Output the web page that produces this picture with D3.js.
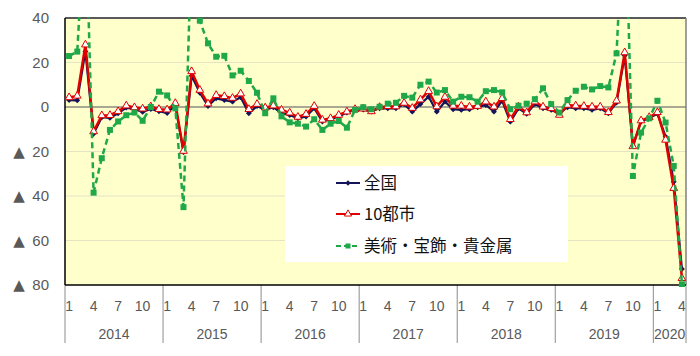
<!DOCTYPE html>
<html><head><meta charset="utf-8">
<script src="https://cdn.jsdelivr.net/npm/d3@7"></script>
<style>
html,body{margin:0;padding:0;background:#fff;}
svg{display:block;font-family:"Noto Sans CJK JP","Noto Sans",sans-serif;}
</style></head>
<body>
<svg id="c" width="700" height="356"></svg>
<script>
// ---- data ----
const years = [2014, 2015, 2016, 2017, 2018, 2019, 2020];
const monthsPerYear = [12, 12, 12, 12, 12, 12, 4];
const monthTickLabels = [1, 4, 7, 10];
const yTicks = [40, 20, 0, -20, -40, -60, -80];
const seriesNames = ["全国", "10都市", "美術・宝飾・貴金属"];

const zenkoku = [
  3.1, 3.0, 25.0, -12.0, -4.6, -4.9, -2.8, -0.3, -1.0, -2.2, -0.9, -1.9,
  -2.7, 0.8, -20.3, 14.0, 6.4, 0.4, 3.9, 3.1, 2.4, 4.4, -2.8, 0.4,
  -1.3, -0.1, -2.8, -3.6, -5.1, -4.3, -0.5, -6.5, -5.5, -4.3, -2.5, -1.3,
  -1.2, -2.0, -0.6, -0.6, -0.6, 1.2, -2.1, 1.3, 4.6, -2.1, 2.4, -1.0,
  -1.3, -1.0, -0.1, 0.9, -2.1, 2.8, -6.6, -0.6, -3.1, 1.3, -0.6, -1.3,
  -2.8, -0.1, -0.6, -0.6, -1.3, -0.6, -2.8, 2.0, 23.1, -17.5, -6.5, -5.0,
  -3.0, -13.3, -33.6, -72.8
];
const toshi10 = [
  4.3, 5.0, 28.0, -11.0, -3.8, -3.7, -2.0, 0.6, -0.2, -0.8, 0.2, -1.0,
  -1.2, 1.7, -19.8, 16.0, 7.6, 1.5, 5.3, 4.8, 4.0, 6.0, -1.0, 1.3,
  -0.3, 0.6, -1.3, -2.6, -4.5, -3.2, 0.4, -5.8, -5.1, -3.6, -2.1, -1.0,
  -0.8, -2.0, -0.1, 0.3, 0.2, 1.8, -0.5, 3.3, 7.1, 0.2, 4.5, 0.5,
  0.5, 0.1, 0.4, 2.4, 0.1, 3.9, -5.5, 0.1, -2.5, 2.4, 0.1, -0.6,
  -3.6, 0.9, 0.6, 0.4, 0.1, 0.1, -2.4, 2.8, 24.5, -17.7, -6.1, -4.6,
  -2.4, -14.8, -36.5, -77.0
];
const bijutsu = [
  22.9, 24.9, 90.0, -38.5, -23.0, -10.3, -6.5, -3.7, -2.5, -6.2, 0.0, 6.9,
  5.2, -0.6, -45.0, 75.0, 38.8, 28.6, 22.6, 23.0, 14.2, 16.3, 11.7, 6.4,
  -2.8, 3.9, -4.2, -6.9, -7.5, -8.8, -5.5, -10.3, -7.5, -6.3, -9.3, -1.3,
  -0.1, -1.0, 0.1, 1.5, 1.9, 5.0, 4.2, 10.0, 11.4, 6.5, 7.6, 2.4,
  4.6, 4.4, 2.4, 7.1, 7.6, 6.6, -1.0, 0.6, 1.5, 3.5, 8.4, 1.3,
  -2.5, 3.1, 7.3, 9.1, 7.9, 9.4, 8.8, 24.1, 100.0, -31.0, -11.5, -5.1,
  2.8, -7.0, -26.5, -79.7
];

// ---- build categories ----
const cats = [];
years.forEach((yr, i) => {
  for (let m = 1; m <= monthsPerYear[i]; m++) cats.push({ key: yr + "-" + m, year: yr, month: m });
});

const svg = d3.select("#c");
const L = 65, R = 686, T = 18, B = 285;
const x = d3.scaleBand().domain(cats.map(c => c.key)).range([L, R]).padding(0);
const y = d3.scaleLinear().domain([-80, 40]).range([B, T]);
const cx = k => x(k) + x.bandwidth() / 2;

// plot background
svg.append("rect").attr("x", L).attr("y", T).attr("width", R - L).attr("height", B - T).attr("fill", "#FFFFCC");

// gridlines
svg.append("g").selectAll("line").data(yTicks.filter(v => v !== 0 && v !== 40 && v !== -80)).join("line")
  .attr("x1", L).attr("x2", R).attr("y1", d => y(d)).attr("y2", d => y(d))
  .attr("stroke", "#e6e2c4").attr("stroke-width", 1);
// zero line
svg.append("line").attr("x1", L).attr("x2", R).attr("y1", y(0)).attr("y2", y(0))
  .attr("stroke", "#8c8c80").attr("stroke-width", 1.5);

// borders
svg.append("line").attr("x1", L).attr("x2", R).attr("y1", T).attr("y2", T).attr("stroke", "#595959").attr("stroke-width", 2);
svg.append("line").attr("x1", R).attr("x2", R).attr("y1", T).attr("y2", B).attr("stroke", "#7f7f7f").attr("stroke-width", 1.5);

// y axis
const yAxis = d3.axisLeft(y).tickValues(yTicks).tickSize(0).tickPadding(16)
  .tickFormat(d => Math.abs(d));
const gy = svg.append("g").attr("transform", `translate(${L},0)`).call(yAxis);
gy.select(".domain").remove();
gy.selectAll("text").attr("font-size", 15).attr("fill", "#595959")
  .attr("font-family", "'Liberation Sans', Arial, sans-serif");
gy.selectAll(".tick").filter(d => d < 0).append("text")
  .attr("x", -46).attr("dy", "0.32em").attr("text-anchor", "middle")
  .attr("font-size", 15).attr("fill", "#595959")
  .attr("font-family", "'DejaVu Sans', sans-serif").text("▲");

// x axis: month labels
const xg = svg.append("g");
xg.selectAll("text.m").data(cats.filter(c => monthTickLabels.includes(c.month))).join("text")
  .attr("class", "m").attr("x", d => cx(d.key)).attr("y", 311)
  .attr("text-anchor", "middle").attr("font-size", 14).attr("fill", "#595959")
  .attr("font-family", "'Liberation Sans', Arial, sans-serif")
  .text(d => d.month);
// year labels
const yearSpans = years.map(yr => {
  const ks = cats.filter(c => c.year === yr);
  return { year: yr, x0: x(ks[0].key), x1: x(ks[ks.length - 1].key) + x.bandwidth() };
});
xg.selectAll("text.y").data(yearSpans).join("text")
  .attr("class", "y").attr("x", d => (d.x0 + d.x1) / 2).attr("y", 339)
  .attr("text-anchor", "middle").attr("font-size", 14).attr("fill", "#595959")
  .attr("font-family", "'Liberation Sans', Arial, sans-serif")
  .text(d => d.year);
// separators
xg.selectAll("line.s").data(yearSpans).join("line")
  .attr("class", "s").attr("x1", d => d.x0).attr("x2", d => d.x0)
  .attr("y1", B).attr("y2", 343).attr("stroke", "#8c8c8c").attr("stroke-width", 1);
xg.append("line").attr("x1", R).attr("x2", R).attr("y1", B).attr("y2", 343).attr("stroke", "#8c8c8c").attr("stroke-width", 1);

// left & bottom axis lines
svg.append("line").attr("x1", L).attr("x2", L).attr("y1", T).attr("y2", B).attr("stroke", "#000").attr("stroke-width", 1.5);
svg.append("line").attr("x1", L).attr("x2", R).attr("y1", B).attr("y2", B).attr("stroke", "#000").attr("stroke-width", 1.5);

// clip
svg.append("clipPath").attr("id", "clip").append("rect")
  .attr("x", L).attr("y", T - 1).attr("width", R - L).attr("height", B - T + 3);

const plot = svg.append("g").attr("clip-path", "url(#clip)");
const line = d3.line().x((d, i) => cx(cats[i].key)).y(d => y(d));

// legend box (behind lines? draw before series)
const legend = svg.append("g");
legend.append("rect").attr("x", 285).attr("y", 166).attr("width", 283).attr("height", 96).attr("fill", "#fff");

// 全国
plot.append("path").datum(zenkoku).attr("d", line).attr("fill", "none")
  .attr("stroke", "#14145a").attr("stroke-width", 2.2);
plot.selectAll("path.dia").data(zenkoku).join("path").attr("class", "dia")
  .attr("transform", (d, i) => `translate(${cx(cats[i].key)},${y(d)})`)
  .attr("d", d3.symbol(d3.symbolDiamond2, 22)).attr("fill", "#14145a");

// 10都市
plot.append("path").datum(toshi10).attr("d", line).attr("fill", "none")
  .attr("stroke", "#e00000").attr("stroke-width", 2.5);
plot.selectAll("path.tri").data(toshi10).join("path").attr("class", "tri")
  .attr("transform", (d, i) => `translate(${cx(cats[i].key)},${y(d)})`)
  .attr("d", d3.symbol(d3.symbolTriangle, 26)).attr("fill", "#fff").attr("stroke", "#e00000").attr("stroke-width", 1);

// 美術・宝飾・貴金属
plot.append("path").datum(bijutsu).attr("d", line).attr("fill", "none")
  .attr("stroke", "#1fa84a").attr("stroke-width", 2.5).attr("stroke-dasharray", "6,4");
plot.selectAll("rect.sq").data(bijutsu).join("rect").attr("class", "sq")
  .attr("x", (d, i) => cx(cats[i].key) - 3).attr("y", d => y(d) - 3)
  .attr("width", 6).attr("height", 6).attr("fill", "#1fa84a");

// legend entries
const lg = [
  { name: seriesNames[0], y: 183 },
  { name: seriesNames[1], y: 214 },
  { name: seriesNames[2], y: 246 }
];
const lx0 = 336, lx1 = 360;
// 全国
legend.append("line").attr("x1", lx0).attr("x2", lx1).attr("y1", lg[0].y).attr("y2", lg[0].y).attr("stroke", "#14145a").attr("stroke-width", 2);
legend.append("path").attr("transform", `translate(${(lx0 + lx1) / 2},${lg[0].y})`).attr("d", d3.symbol(d3.symbolDiamond2, 18)).attr("fill", "#14145a");
// 10都市
legend.append("line").attr("x1", lx0).attr("x2", lx1).attr("y1", lg[1].y).attr("y2", lg[1].y).attr("stroke", "#e00000").attr("stroke-width", 2);
legend.append("path").attr("transform", `translate(${(lx0 + lx1) / 2},${lg[1].y})`).attr("d", d3.symbol(d3.symbolTriangle, 22)).attr("fill", "#fff").attr("stroke", "#e00000").attr("stroke-width", 1);
// 美術
legend.append("line").attr("x1", lx0).attr("x2", lx1).attr("y1", lg[2].y).attr("y2", lg[2].y).attr("stroke", "#1fa84a").attr("stroke-width", 2).attr("stroke-dasharray", "5,3");
legend.append("rect").attr("x", (lx0 + lx1) / 2 - 2.5).attr("y", lg[2].y - 2.5).attr("width", 5).attr("height", 5).attr("fill", "#1fa84a");

legend.selectAll("text").data(lg).join("text")
  .attr("x", 364).attr("y", d => d.y).attr("dy", "0.36em")
  .attr("font-size", 16.5).attr("fill", "#111")
  .text(d => d.name);
</script>
</body></html>
